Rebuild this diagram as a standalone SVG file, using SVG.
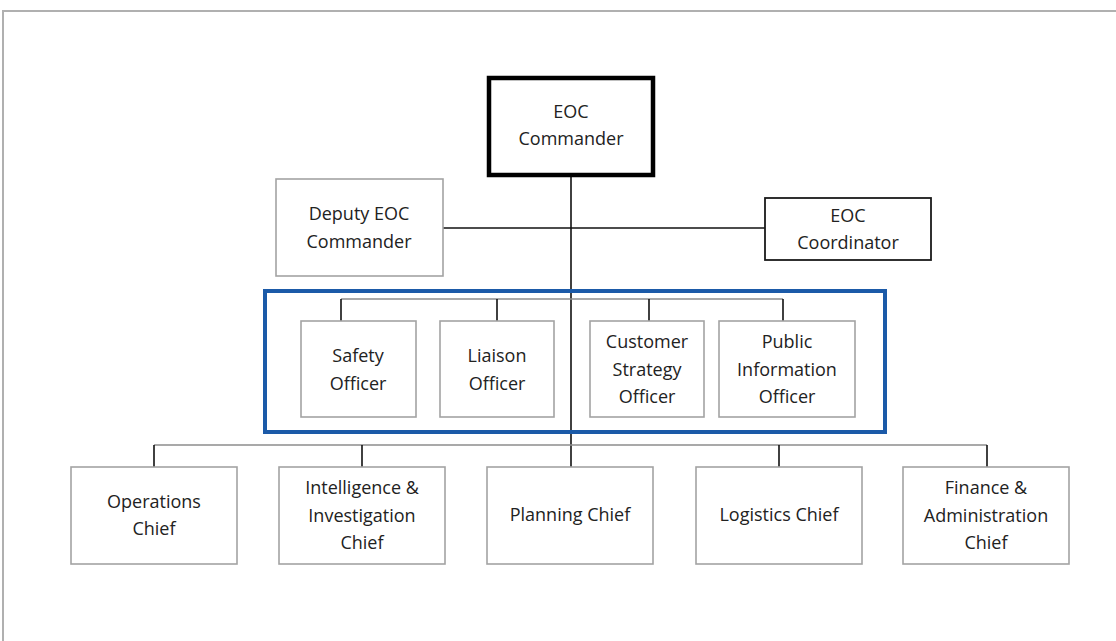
<svg xmlns="http://www.w3.org/2000/svg" width="1116" height="641" viewBox="0 0 1116 641">
<style>
.box{fill:#fff;stroke:#a3a3a3;stroke-width:1.6}
.boxk{fill:#fff;stroke:#1a1a1a;stroke-width:1.8}
.boxc{fill:#fff;stroke:#000;stroke-width:4.5}
.t{font-family:"Open Sans","Noto Sans",sans-serif;font-size:18px;fill:#222;text-anchor:middle}
.ln{stroke:#111;stroke-width:1.6;fill:none}
.lg{stroke:#8c8c8c;stroke-width:1.6;fill:none}
</style>
<rect x="0" y="0" width="1116" height="641" fill="#fff"/>
<rect x="3" y="11" width="1140" height="660" fill="none" stroke="#b0b0b0" stroke-width="2"/>
<g id="connectors">
<line class="ln" x1="571" y1="175" x2="571" y2="467"/>
<line class="ln" x1="443" y1="228" x2="765" y2="228"/>
<line class="lg" x1="341" y1="299" x2="783" y2="299"/>
<line class="ln" x1="341" y1="299" x2="341" y2="321"/>
<line class="ln" x1="497" y1="299" x2="497" y2="321"/>
<line class="ln" x1="649" y1="299" x2="649" y2="321"/>
<line class="ln" x1="783" y1="299" x2="783" y2="321"/>
<line class="lg" x1="154" y1="445" x2="987" y2="445"/>
<line class="ln" x1="154" y1="445" x2="154" y2="467"/>
<line class="ln" x1="362" y1="445" x2="362" y2="467"/>
<line class="ln" x1="779" y1="445" x2="779" y2="467"/>
<line class="ln" x1="987" y1="445" x2="987" y2="467"/>
</g>
<g id="officer-group"><rect x="265" y="291" width="620" height="141" fill="none" stroke="#1b5aa8" stroke-width="4"/></g>
<g id="eoc-commander"><rect class="boxc" x="489" y="78" width="164" height="97"/><text class="t" x="571" y="118">EOC</text><text class="t" x="571" y="145">Commander</text></g>
<g id="deputy"><rect class="box" x="276" y="179" width="167" height="97"/><text class="t" x="359" y="220">Deputy EOC</text><text class="t" x="359" y="248">Commander</text></g>
<g id="coordinator"><rect class="boxk" x="765" y="198" width="166" height="62"/><text class="t" x="848" y="222">EOC</text><text class="t" x="848" y="249">Coordinator</text></g>
<g id="safety"><rect class="box" x="301" y="321" width="115" height="96"/><text class="t" x="358" y="362">Safety</text><text class="t" x="358" y="390">Officer</text></g>
<g id="liaison"><rect class="box" x="440" y="321" width="114" height="96"/><text class="t" x="497" y="362">Liaison</text><text class="t" x="497" y="390">Officer</text></g>
<g id="customer"><rect class="box" x="590" y="321" width="114" height="96"/><text class="t" x="647" y="348">Customer</text><text class="t" x="647" y="376">Strategy</text><text class="t" x="647" y="403">Officer</text></g>
<g id="public"><rect class="box" x="719" y="321" width="136" height="96"/><text class="t" x="787" y="348">Public</text><text class="t" x="787" y="376">Information</text><text class="t" x="787" y="403">Officer</text></g>
<g id="operations"><rect class="box" x="71" y="467" width="166" height="97"/><text class="t" x="154" y="508">Operations</text><text class="t" x="154" y="535">Chief</text></g>
<g id="intelligence"><rect class="box" x="279" y="467" width="166" height="97"/><text class="t" x="362" y="494">Intelligence &amp;</text><text class="t" x="362" y="522">Investigation</text><text class="t" x="362" y="549">Chief</text></g>
<g id="planning"><rect class="box" x="487" y="467" width="166" height="97"/><text class="t" x="570" y="521">Planning Chief</text></g>
<g id="logistics"><rect class="box" x="696" y="467" width="166" height="97"/><text class="t" x="779" y="521">Logistics Chief</text></g>
<g id="finance"><rect class="box" x="903" y="467" width="166" height="97"/><text class="t" x="986" y="494">Finance &amp;</text><text class="t" x="986" y="522">Administration</text><text class="t" x="986" y="549">Chief</text></g>
</svg>
